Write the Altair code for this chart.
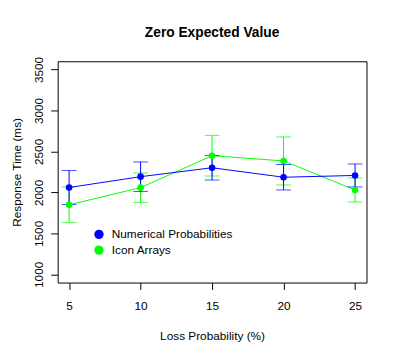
import altair as alt
import pandas as pd

loss_prob = [5, 10, 15, 20, 25]
series_names = ["Numerical Probabilities", "Icon Arrays"]
num_mean = [2060, 2192, 2301, 2185, 2207]
num_err = [208, 180, 150, 155, 140]
icon_mean = [1849, 2058, 2448, 2384, 2030]
icon_err = [218, 180, 248, 293, 147]
colors = ["#0000FF", "#00FF00"]
x_ticks = [5, 10, 15, 20, 25]
y_ticks = [1000, 1500, 2000, 2500, 3000, 3500]

rows = []
for name, means, errs in [(series_names[0], num_mean, num_err), (series_names[1], icon_mean, icon_err)]:
    for x, m, e in zip(loss_prob, means, errs):
        rows.append({"series": name, "x": x, "mean": m, "lo": m - e, "hi": m + e})
df = pd.DataFrame(rows)

FONT = "Liberation Sans"

xscale = alt.Scale(domain=[4.2, 25.8], nice=False, zero=False)
yscale = alt.Scale(domain=[900, 3600], nice=False, zero=False)
color_scale = alt.Scale(domain=series_names, range=colors)

xax = alt.Axis(values=x_ticks, title="Loss Probability (%)", grid=False, domain=False,
               tickSize=7, tickColor="black", labelFontSize=12, labelPadding=11,
               labelColor="black", labelFont=FONT, titleFont=FONT, titleFontSize=12,
               titleFontWeight="normal", titleColor="black", titleY=58,
               titleBaseline="alphabetic")
yax = alt.Axis(values=y_ticks, format="d", title="Response Time (ms)", grid=False, domain=False,
               tickSize=7, tickColor="black", labelFontSize=12, labelPadding=5,
               labelAngle=270, labelAlign="center", labelBaseline="bottom",
               labelColor="black", labelFont=FONT, titleFont=FONT, titleFontSize=12,
               titleFontWeight="normal", titleColor="black", titleAngle=270,
               titleX=-38, titleY=112.5, titleAlign="center", titleBaseline="alphabetic",
               titleLimit=300)

legend = alt.Legend(title=None, orient="none", legendX=36, legendY=170,
                    symbolType="circle", symbolSize=90, symbolOpacity=1,
                    symbolStrokeWidth=0,
                    labelFontSize=12, labelFont=FONT, labelColor="black",
                    labelOffset=7, rowPadding=4, padding=0)
color_enc = alt.Color("series:N", scale=color_scale, legend=legend)

base = alt.Chart(df)

layers = []
for name in series_names[::-1]:
    sub = base.transform_filter(alt.datum.series == name)
    layers.append(sub.mark_line(strokeWidth=1).encode(
        x=alt.X("x:Q", scale=xscale, axis=xax),
        y=alt.Y("mean:Q", scale=yscale, axis=yax),
        color=color_enc))
    layers.append(sub.mark_rule(strokeWidth=1).encode(
        x="x:Q", y="lo:Q", y2="hi:Q", color=color_enc))
    layers.append(sub.mark_tick(orient="horizontal", size=15, thickness=1).encode(
        x="x:Q", y="lo:Q", color=color_enc))
    layers.append(sub.mark_tick(orient="horizontal", size=15, thickness=1).encode(
        x="x:Q", y="hi:Q", color=color_enc))

points = base.mark_point(filled=True, size=45, opacity=1).encode(
    x="x:Q", y="mean:Q", color=color_enc)
layers.append(points)

chart = alt.layer(*layers).properties(
    width=314, height=225,
    title=alt.TitleParams("Zero Expected Value", font=FONT, fontSize=14, fontWeight="bold",
                          color="black", anchor="middle", offset=17),
    autosize=alt.AutoSizeParams(type="none"),
    padding={"left": 50.5, "top": 51.3, "right": 30, "bottom": 66},
).configure_view(stroke="black", strokeWidth=1)

chart.save("out.html", embed_options={"renderer": "svg", "actions": False})
